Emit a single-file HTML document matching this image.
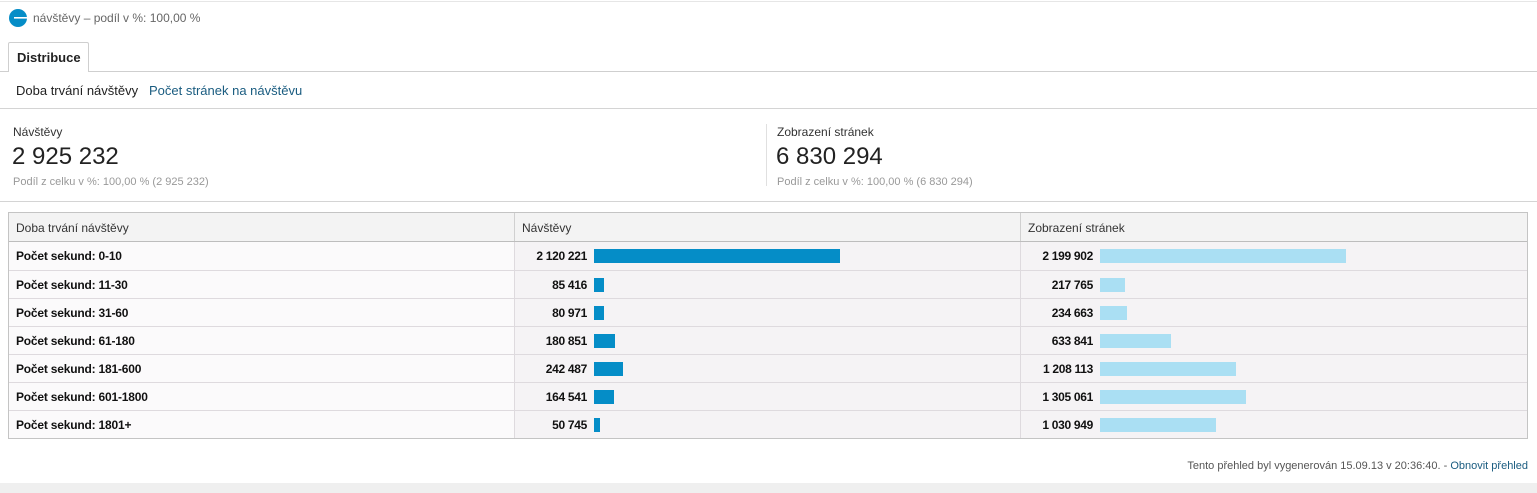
<!DOCTYPE html>
<html><head><meta charset="utf-8">
<style>
*{margin:0;padding:0;box-sizing:border-box}
body{width:1537px;height:493px;background:#fff;font-family:"Liberation Sans",Arial,sans-serif;position:relative;overflow:hidden;color:#222}
.a{position:absolute;white-space:nowrap}
.hl{position:absolute;left:0;width:1537px;height:1px;background:#d4d4d4}
.tbl{position:absolute;left:8px;top:212px;width:1520px;height:227px;border:1px solid #c4c4c4;background:#f5f3f5}
.row{position:absolute;left:0;width:1518px;height:28px;border-top:1px solid #dedade}
.c1{position:absolute;left:0;top:0;width:506px;height:100%;background:#fbfafb;border-right:1px solid #dedade}
.c2{position:absolute;left:506px;top:0;width:506px;height:100%;border-right:1px solid #dedade}
.lbl{position:absolute;left:7px;top:7px;font-weight:bold;font-size:12px;color:#111;letter-spacing:-0.2px}
.num{position:absolute;top:7px;width:90px;text-align:right;font-weight:bold;font-size:12px;color:#111;letter-spacing:-0.3px}
.b1{position:absolute;top:7px;height:14px;background:#058dc7}
.b2{position:absolute;top:7px;height:14px;background:#aadff3}
</style></head><body>
<div class="hl" style="top:1px;background:#e6e6e6"></div>
<svg class="a" style="left:8px;top:8px" width="20" height="20"><circle cx="10" cy="10" r="9" fill="#058dc7"/><rect x="6" y="9" width="13" height="1.6" fill="#fff"/></svg>
<div class="a" style="left:33px;top:11px;font-size:12px;color:#666">návštěvy – podíl v %: 100,00 %</div>

<div class="a" style="left:8px;top:42px;width:81px;height:30px;border:1px solid #cfcfcf;border-bottom:none;border-radius:2px 2px 0 0;background:#fff;z-index:2"></div>
<div class="a" style="left:17px;top:50px;font-size:13px;font-weight:bold;color:#222;z-index:3">Distribuce</div>
<div class="hl" style="top:71px;background:#cfcfcf"></div>

<div class="a" style="left:16px;top:83px;font-size:13px;color:#222">Doba trvání návštěvy</div>
<div class="a" style="left:149px;top:83px;font-size:13px;color:#1a5c80">Počet stránek na návštěvu</div>
<div class="hl" style="top:108px"></div>

<div class="a" style="left:13px;top:125px;font-size:12px;color:#333">Návštěvy</div>
<div class="a" style="left:12px;top:143px;font-size:24px;color:#222">2 925 232</div>
<div class="a" style="left:13px;top:176px;font-size:11px;color:#999">Podíl z celku v %: 100,00 % (2 925 232)</div>

<div class="a" style="left:766px;top:124px;width:1px;height:62px;background:#e0e0e0"></div>
<div class="a" style="left:777px;top:125px;font-size:12px;color:#333">Zobrazení stránek</div>
<div class="a" style="left:776px;top:143px;font-size:24px;color:#222">6 830 294</div>
<div class="a" style="left:777px;top:176px;font-size:11px;color:#999">Podíl z celku v %: 100,00 % (6 830 294)</div>
<div class="hl" style="top:201px"></div>

<div class="tbl">
  <div class="row" style="top:0;height:29px;border-top:none;border-bottom:1px solid #bdbdbd;background:#f3f3f3">
    <div class="c1" style="background:#f3f3f3;border-right-color:#d0d0d0"></div>
    <div class="c2" style="border-right-color:#d0d0d0"></div>
    <div class="a" style="left:7px;top:8px;font-size:12px;color:#333">Doba trvání návštěvy</div>
    <div class="a" style="left:513px;top:8px;font-size:12px;color:#333">Návštěvy</div>
    <div class="a" style="left:1019px;top:8px;font-size:12px;color:#333">Zobrazení stránek</div>
  </div>

  <div class="row" style="top:29px;border-top:none"><div class="c1"></div><div class="c2"></div>
    <div class="lbl">Počet sekund: 0-10</div>
    <div class="num" style="left:488px">2 120 221</div><div class="b1" style="left:585px;width:246px"></div>
    <div class="num" style="left:994px">2 199 902</div><div class="b2" style="left:1091px;width:246px"></div>
  </div>
  <div class="row" style="top:57px"><div class="c1"></div><div class="c2"></div>
    <div class="lbl">Počet sekund: 11-30</div>
    <div class="num" style="left:488px">85 416</div><div class="b1" style="left:585px;width:10px"></div>
    <div class="num" style="left:994px">217 765</div><div class="b2" style="left:1091px;width:25px"></div>
  </div>
  <div class="row" style="top:85px"><div class="c1"></div><div class="c2"></div>
    <div class="lbl">Počet sekund: 31-60</div>
    <div class="num" style="left:488px">80 971</div><div class="b1" style="left:585px;width:10px"></div>
    <div class="num" style="left:994px">234 663</div><div class="b2" style="left:1091px;width:27px"></div>
  </div>
  <div class="row" style="top:113px"><div class="c1"></div><div class="c2"></div>
    <div class="lbl">Počet sekund: 61-180</div>
    <div class="num" style="left:488px">180 851</div><div class="b1" style="left:585px;width:21px"></div>
    <div class="num" style="left:994px">633 841</div><div class="b2" style="left:1091px;width:71px"></div>
  </div>
  <div class="row" style="top:141px"><div class="c1"></div><div class="c2"></div>
    <div class="lbl">Počet sekund: 181-600</div>
    <div class="num" style="left:488px">242 487</div><div class="b1" style="left:585px;width:29px"></div>
    <div class="num" style="left:994px">1 208 113</div><div class="b2" style="left:1091px;width:136px"></div>
  </div>
  <div class="row" style="top:169px"><div class="c1"></div><div class="c2"></div>
    <div class="lbl">Počet sekund: 601-1800</div>
    <div class="num" style="left:488px">164 541</div><div class="b1" style="left:585px;width:20px"></div>
    <div class="num" style="left:994px">1 305 061</div><div class="b2" style="left:1091px;width:146px"></div>
  </div>
  <div class="row" style="top:197px"><div class="c1"></div><div class="c2"></div>
    <div class="lbl">Počet sekund: 1801+</div>
    <div class="num" style="left:488px">50 745</div><div class="b1" style="left:585px;width:6px"></div>
    <div class="num" style="left:994px">1 030 949</div><div class="b2" style="left:1091px;width:116px"></div>
  </div>
</div>

<div class="a" style="right:9px;top:460px;font-size:11px;color:#555">Tento přehled byl vygenerován 15.09.13 v 20:36:40. - <span style="color:#1a5c80">Obnovit přehled</span></div>
<div class="a" style="left:0;top:483px;width:1537px;height:10px;background:#efefef"></div>
</body></html>
